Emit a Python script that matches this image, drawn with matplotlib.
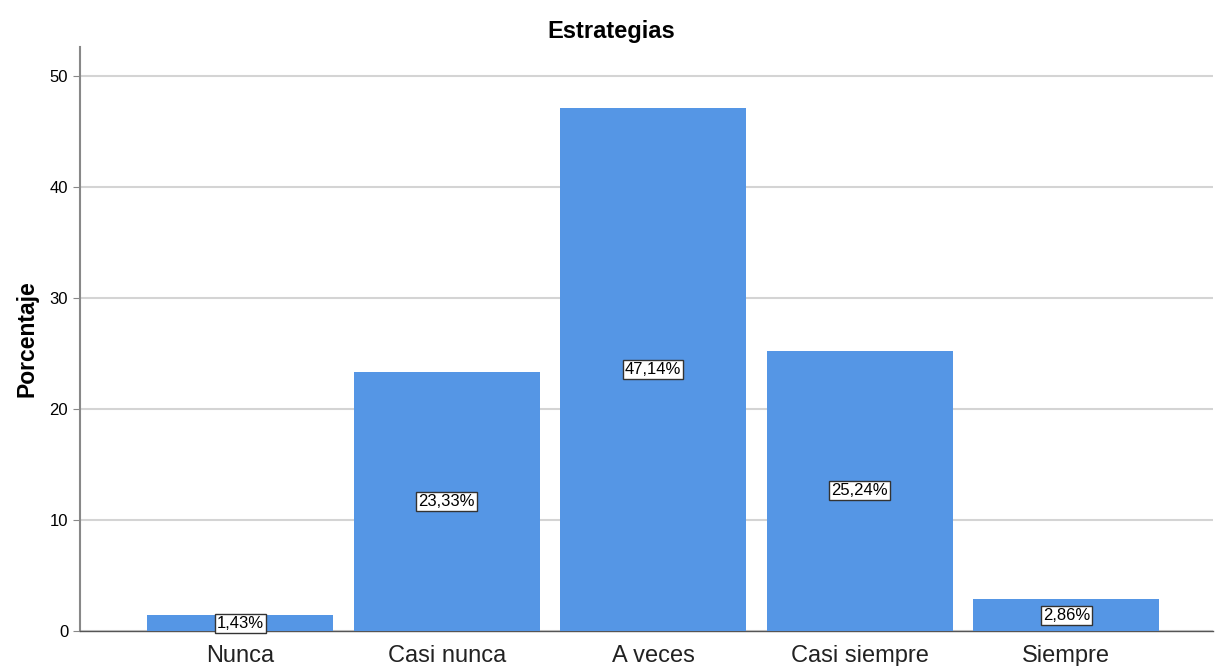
import matplotlib
matplotlib.use("Agg")
import matplotlib.pyplot as plt

plt.rcParams['font.family'] = ['Liberation Sans', 'DejaVu Sans']

categories = ["Nunca", "Casi nunca", "A veces", "Casi siempre", "Siempre"]
percentages = [1.43, 23.33, 47.14, 25.24, 2.86]
labels = ["1,43%", "23,33%", "47,14%", "25,24%", "2,86%"]
yticks = [0, 10, 20, 30, 40, 50]

fig = plt.figure(figsize=(12.17, 6.66), dpi=100)
ax = fig.add_axes([80 / 1217, 35 / 666, 1133 / 1217, 584 / 666])

x = list(range(len(categories)))
bars = ax.bar(x, percentages, width=0.9, color="#5596e5", zorder=3)

for xi, val, lab in zip(x, percentages, labels):
    ax.text(xi, val / 2, lab, ha="center", va="center", fontsize=12, zorder=5,
            bbox=dict(boxstyle="square,pad=0.12", facecolor="white", edgecolor="#333333", linewidth=1))

ax.set_xlim(-0.775, 4.71)
ax.set_ylim(0, 52.6)
ax.set_yticks(yticks)
ax.set_xticks(x)
ax.set_xticklabels(categories, fontsize=17, color="#222222")
ax.tick_params(axis="y", labelsize=12, length=5, color="#888888")
ax.tick_params(axis="x", length=0, pad=10)
ax.yaxis.grid(True, color="#d4d4d4", linewidth=1.5, zorder=0)

for s in ["top", "right"]:
    ax.spines[s].set_visible(False)
ax.spines["left"].set_color("#888888")
ax.spines["left"].set_linewidth(1.5)
ax.spines["bottom"].set_color("#555555")
ax.spines["bottom"].set_linewidth(1)

ax.set_ylabel("Porcentaje", fontsize=16.5, fontweight="bold", labelpad=8)
fig.suptitle("Estrategias", fontsize=17, fontweight="bold", x=0.502, y=0.97)

fig.savefig("out.png", dpi=100)
